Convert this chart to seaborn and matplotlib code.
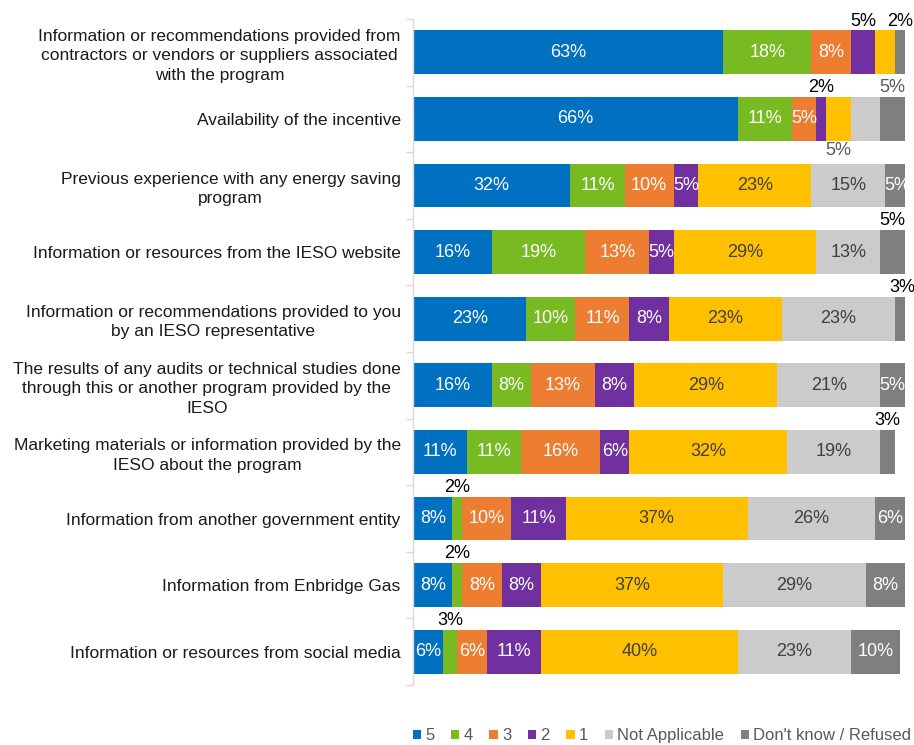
import numpy as np
import pandas as pd
import matplotlib
matplotlib.use("Agg")
import matplotlib.pyplot as plt
from matplotlib.patches import Patch
import seaborn as sns

categories = [
    "Information or recommendations provided from\ncontractors or vendors or suppliers associated\nwith the program",
    "Availability of the incentive",
    "Previous experience with any energy saving\nprogram",
    "Information or resources from the IESO website",
    "Information or recommendations provided to you\nby an IESO representative",
    "The results of any audits or technical studies done\nthrough this or another program provided by the\nIESO",
    "Marketing materials or information provided by the\nIESO about the program",
    "Information from another government entity",
    "Information from Enbridge Gas",
    "Information or resources from social media",
]
series_names = ["5", "4", "3", "2", "1", "Not Applicable", "Don't know / Refused"]

rating_5 = [63, 66, 32, 16, 23, 16, 11, 8, 8, 6]
rating_4 = [18, 11, 11, 19, 10, 8, 11, 2, 2, 3]
rating_3 = [8, 5, 10, 13, 11, 13, 16, 10, 8, 6]
rating_2 = [5, 2, 5, 5, 8, 8, 6, 11, 8, 11]
rating_1 = [4, 5, 23, 29, 23, 29, 32, 37, 37, 40]
not_applicable = [0, 6, 15, 13, 23, 21, 19, 26, 29, 23]
dont_know = [2, 5, 5, 5, 3, 5, 3, 6, 8, 10]

values = [rating_5, rating_4, rating_3, rating_2, rating_1, not_applicable, dont_know]

colors = ["#0070C0", "#77BA22", "#ED7D31", "#7030A0", "#FFC000", "#CBCBCB", "#7F7F7F"]
inside_text = ["white", "white", "white", "white", "#404040", "#404040", "white"]

# segments whose value sits outside the bar: (row, series) -> (where, colour)
outside = {
    (0, 3): ("above", "black"),
    (0, 6): ("above", "black"),
    (1, 3): ("above", "black"),
    (1, 6): ("above", "#595959"),
    (1, 4): ("below", "#595959"),
    (3, 6): ("above", "black"),
    (4, 6): ("above", "black"),
    (6, 6): ("above", "black"),
    (7, 1): ("above", "black"),
    (8, 1): ("above", "black"),
    (9, 1): ("above", "black"),
}
unlabelled = {(0, 4), (1, 5)}

sns.set_theme(style="white")
plt.rcParams["font.family"] = ["Liberation Sans", "DejaVu Sans"]

# long table with the running end of every segment
rows = []
for s, name in enumerate(series_names):
    for i, cat in enumerate(categories):
        start = sum(values[k][i] for k in range(s))
        rows.append({"category": cat, "series": name, "value": values[s][i],
                     "start": start, "end": start + values[s][i]})
df = pd.DataFrame(rows)

fig = plt.figure(figsize=(9.14, 7.45), dpi=100)
ax = fig.add_axes([0.452, 0.0805, 0.538, 0.894])

bar_h = 0.66
for s in reversed(range(len(series_names))):
    sub = df[df["series"] == series_names[s]]
    sns.barplot(data=sub, x="end", y="category", order=categories, orient="h",
                color=colors[s], saturation=1, width=bar_h, errorbar=None,
                linewidth=0, ax=ax)

label_fs = 13
for s, name in enumerate(series_names):
    sub = df[df["series"] == name]
    for i, (_, r) in enumerate(sub.iterrows()):
        if r["value"] <= 0 or (i, s) in unlabelled:
            continue
        xc = (r["start"] + r["end"]) / 2
        label = f"{r['value']}%"
        if (i, s) in outside:
            where, col = outside[(i, s)]
            if where == "above":
                ax.text(xc, i - bar_h / 2 - 0.01, label, ha="center", va="bottom",
                        fontsize=label_fs, color=col, clip_on=False)
            else:
                ax.text(xc, i + bar_h / 2 + 0.02, label, ha="center", va="top",
                        fontsize=label_fs, color=col, clip_on=False)
        else:
            ax.text(xc, i, label, ha="center", va="center", fontsize=label_fs,
                    color=inside_text[s])

ax.set_xlim(0, 100)
ax.set_ylim(len(categories) - 0.5, -0.5)
ax.set_xticks([])
ax.set_xlabel("")
ax.set_ylabel("")
for side in ["top", "right", "bottom"]:
    ax.spines[side].set_visible(False)
ax.spines["left"].set_color("#D9D9D9")
ax.spines["left"].set_linewidth(1.0)

ax.set_yticks(range(len(categories)))
ax.set_yticklabels(categories, fontsize=12.5, color="#1a1a1a", multialignment="center",
                   linespacing=1.35)
ax.set_yticks(np.arange(-0.5, len(categories)), minor=True)
ax.tick_params(axis="y", which="major", length=0, pad=9)
ax.tick_params(axis="y", which="minor", length=5, color="#D9D9D9", width=1, left=True)

handles = [Patch(facecolor=c, edgecolor="none", label=n) for c, n in zip(colors, series_names)]
fig.legend(handles=handles, loc="lower right", bbox_to_anchor=(1.008, -0.011), ncol=7,
           frameon=False, fontsize=12, handlelength=0.5, handleheight=0.5,
           handletextpad=0.25, columnspacing=1.0, labelcolor="#595959",
           borderaxespad=0.2)

fig.savefig("out.png", dpi=100)
